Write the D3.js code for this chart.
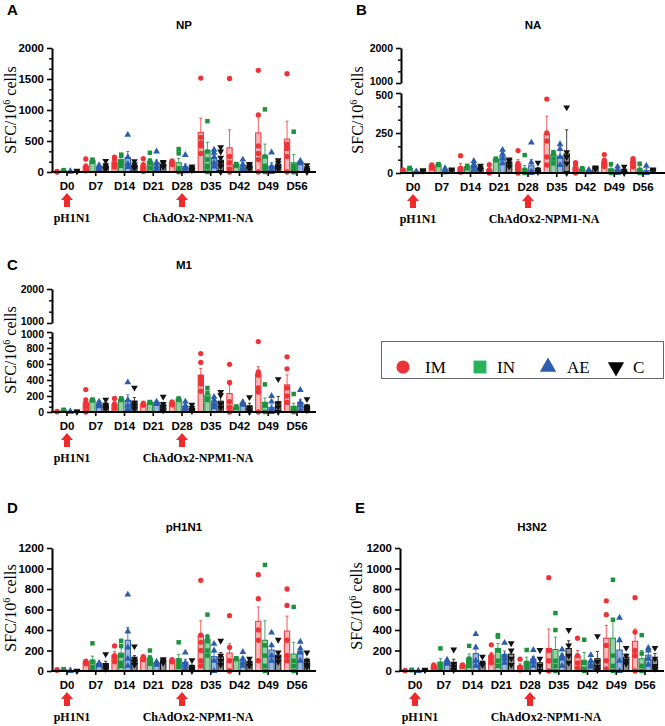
<!DOCTYPE html>
<html><head><meta charset="utf-8">
<script src="https://cdn.jsdelivr.net/npm/d3@7"></script>
<style>body{margin:0;background:#fff}svg{display:block}</style>
</head><body>
<svg id="c" width="665" height="726"></svg>
<script>
// ---------- DATA ----------
const days = ["D0","D7","D14","D21","D28","D35","D42","D49","D56"];
const groups = ["IM","IN","AE","C"];
const arrowDays = ["D0","D28"];
const treatments = ["pH1N1","ChAdOx2-NPM1-NA"];

// NP (A)  rows: IM, IN, AE, C
const npMean = [
  [5,90,160,100,155,640,390,630,530],
  [25,180,200,170,150,345,120,260,150],
  [10,70,230,145,85,230,110,95,160],
  [15,100,110,120,60,190,90,130,60]];
const npSem = [
  [5,40,40,40,15,230,290,290,290],
  [5,15,50,45,70,135,5,190,130],
  [5,20,100,50,45,40,40,55,15],
  [5,30,30,25,15,60,20,40,30]];
const npPts = [
  [[10,0,5],[210,90,50,20],[240,200,130,80],[215,120,60,10],[180,160,150,120],[1515,560,470,420,300],[1510,250,150,50,0],[1640,920,420,300,200,0],[1585,450,380,250,0]],
  [[30,20],[200,175,165],[280,260,160,100],[310,180,140,60],[370,300,60,20,0],[820,330,200,100,80,0],[130,120,100],[1010,250,100,50,0],[650,100,50,0,0]],
  [[15,5],[110,80,40],[600,240,130,80],[330,150,90,40],[275,80,40,10],[360,310,240,150,90],[200,120,60,20],[315,90,50,20,0],[180,160,140]],
  [[20,10],[180,110,60,50],[175,120,80,60],[160,140,100,80],[90,60,40,30],[400,330,230,150,90,0],[130,110,80,50],[190,150,80,50],[110,60,20,0]]];

// NA (B)
const naMean = [
  [17,45,35,20,55,245,35,70,70],
  [30,52,40,85,25,115,25,25,25],
  [8,15,45,105,45,105,15,20,15],
  [15,20,30,65,20,120,30,15,20]];
const naSem = [
  [3,5,25,12,30,110,15,20,15],
  [3,3,8,5,22,15,3,20,20],
  [3,8,15,25,40,35,5,10,15],
  [3,3,10,15,15,150,3,10,3]];
const naPts = [
  [[20,15],[50,40,30],[108,30,20,10,5],[52,20,10,0],[140,60,40,20,0],[462,250,200,100,50],[65,50,20,0],[115,80,60,40],[90,80,65,40]],
  [[32,28],[55,50],[45,40,30],[90,85,80],[112,20,5,0],[130,120,90,60],[30,25,20],[55,15,0],[58,20,0]],
  [[10,5],[30,10,5],[75,55,40,20],[145,120,90,60],[190,65,10,0],[180,150,100,50],[20,15,5],[40,20,0],[45,0,0]],
  [[17,13],[22,18],[45,30,20],[85,75,60,40],[65,20,5],[410,130,100,60,0],[35,30,25],[40,15,0],[22,18]]];

// M1 (C)
const m1Mean = [
  [5,115,95,95,110,460,230,480,340],
  [25,150,160,120,160,215,60,120,70],
  [5,100,145,120,75,130,110,60,120],
  [5,90,125,90,45,135,70,125,70]];
const m1Sem = [
  [3,50,30,5,10,85,110,85,125],
  [3,5,10,5,10,35,5,55,40],
  [2,20,70,10,20,30,15,30,40],
  [2,25,55,30,20,60,40,70,25]];
const m1Pts = [
  [[8,2],[280,150,110,60,0],[170,100,70,40],[110,95,85],[125,110,100,90],[730,620,440,400,350,260],[596,370,130,60,0],[880,500,460,300,250,0],[690,540,300,200,120]],
  [[28,22],[155,150,145],[170,160,150],[125,120,115],[170,160,150],[300,240,170,150],[70,60,50],[345,100,80,0],[225,50,20,0]],
  [[8,3],[130,100,70],[370,150,80,30],[130,115,100],[130,80,50,30],[190,150,100,60],[125,110,90],[200,130,40,0],[275,120,80,20]],
  [[7,3],[155,90,60,40],[305,120,80,40],[190,100,60,20],[90,50,20,10],[250,210,100,50],[185,60,30,0],[410,110,60,0],[160,70,40,20]]];

// pH1N1 (D)
const ph1Mean = [
  [10,90,155,130,105,350,175,485,390],
  [15,105,175,125,120,305,120,300,165],
  [3,70,300,80,85,140,110,205,190],
  [2,70,120,100,40,140,85,155,100]];
const ph1Sem = [
  [3,10,35,15,5,140,90,140,145],
  [3,40,50,25,40,50,5,190,115],
  [2,8,125,10,30,45,25,50,30],
  [1,25,30,15,20,40,20,35,25]];
const ph1Pts = [
  [[12,8],[95,85,70],[245,150,130,90],[140,130,110],[110,100,90],[885,350,280,200,100,50],[540,230,100,0,0],[940,705,400,300,100],[800,640,300,150,100]],
  [[18,12],[270,90,40,20],[295,245,150,80,50],[200,130,90,70],[280,100,60,40],[550,330,290,200,150],[125,120,115],[1035,250,150,50,0],[625,100,50,0]],
  [[5,0],[80,65,55],[745,385,230,120,50],[90,80,60],[180,80,50,20],[265,200,100,0],[185,120,80,50],[375,250,150,100],[285,220,180,100]],
  [[3,0],[165,60,40,20],[240,120,90,60],[115,100,80],[105,40,20,0],[295,150,100,60],[120,80,50],[305,180,130,90],[180,100,60,40]]];

// H3N2 (E)
const h3Mean = [
  [5,50,55,150,50,220,145,320,290],
  [10,85,125,220,90,210,105,320,120],
  [2,90,170,160,115,135,90,205,155],
  [10,80,80,165,80,220,120,135,110]];
const h3Sem = [
  [2,10,5,30,20,190,55,125,120],
  [3,35,40,50,45,120,75,190,80],
  [1,15,60,35,25,35,20,110,35],
  [3,35,15,40,40,75,70,30,60]];
const h3Pts = [
  [[7,3],[60,45,30],[60,55,45],[255,150,120,80],[115,40,30,10],[910,200,100,0],[320,150,80,30],[685,550,250,100,20],[715,380,200,150,0]],
  [[12,8],[220,70,40,20],[245,120,80,50],[350,335,200,100,50],[205,80,50,20],[565,400,100,50,0],[305,80,20,0],[890,500,150,50,0],[350,170,50,0]],
  [[3,0],[110,90,70],[360,230,100,50],[275,150,120,80],[205,120,90,50],[210,150,120,50],[155,100,60,40],[520,300,100,0],[225,200,120,60]],
  [[12,8],[210,70,40,10],[140,80,60],[270,200,120,60],[205,120,50,0],[400,250,150,80],[340,90,40,10],[225,150,100,70],[225,120,50,20]]];

// ---------- STYLE ----------
const colors = {IM:"#ee3338", IN:"#1c913f", AE:"#2b5cae", C:"#111111"};
const legendColors = {IM:"#ee3338", IN:"#27b35c", AE:"#2b5cae", C:"#000000"};
const shapes = {IM:d3.symbolCircle, IN:d3.symbolSquare, AE:d3.symbolTriangle, C:d3.symbolTriangle};
const sansB = "'Liberation Sans', Arial, sans-serif";
const serif = "'Liberation Serif', 'Times New Roman', serif";

const panels = [
  {letter:"A", title:"NP", mean:npMean, sem:npSem, pts:npPts, ax:52, g0:67, y0:172, lowTop:48, lowMax:2000, lowTicks:[0,500,1000,1500,2000], lowMinor:500/3, upper:null, ly:15, ty:29, yl:[16,110]},
  {letter:"B", title:"NA", mean:naMean, sem:naSem, pts:naPts, ax:401, g0:413, y0:173, lowTop:93, lowMax:500, lowTicks:[0,250,500], lowMinor:250/3, upper:{y0:83,y1:48,ticks:[1000,2000]}, ly:15, ty:29, yl:[363,110]},
  {letter:"C", title:"M1", mean:m1Mean, sem:m1Sem, pts:m1Pts, ax:52, g0:67, y0:412, lowTop:332, lowMax:1000, lowTicks:[0,200,400,600,800,1000], lowMinor:200/3, upper:{y0:323,y1:289,ticks:[1000,2000]}, ly:270, ty:269, yl:[16,350]},
  {letter:"D", title:"pH1N1", mean:ph1Mean, sem:ph1Sem, pts:ph1Pts, ax:52, g0:67, y0:671, lowTop:548, lowMax:1200, lowTicks:[0,200,400,600,800,1000,1200], lowMinor:null, upper:null, ly:513, ty:531, yl:[16,608]},
  {letter:"E", title:"H3N2", mean:h3Mean, sem:h3Sem, pts:h3Pts, ax:400, g0:415, y0:671, lowTop:548, lowMax:1200, lowTicks:[0,200,400,600,800,1000,1200], lowMinor:null, upper:null, ly:513, ty:531, yl:[362,606]}
];

const svg = d3.select("#c");
const step = 28.75;

function styleAxis(g, fs){
  g.select(".domain").attr("stroke","#000").attr("stroke-width",2);
  g.selectAll(".tick line").attr("stroke","#000").attr("stroke-width",1.6);
  g.selectAll(".tick text").attr("font-family",sansB).attr("font-weight","bold").attr("font-size",fs || "11.5px").attr("fill","#000");
}

panels.forEach(p => {
  const g = svg.append("g");
  const x = d3.scalePoint().domain(days).range([p.g0, p.g0 + step*(days.length-1)]);
  const xb = d3.scaleBand().domain(groups).range([-12.6, 12.6]).paddingInner(0.2);
  const y = d3.scaleLinear().domain([0, p.lowMax]).range([p.y0, p.lowTop]);
  const axisEnd = p.ax + 264;
  const fs = p.upper ? "10.5px" : "11.5px";

  // panel letter & title
  g.append("text").attr("x", p.ax - 45).attr("y", p.ly).text(p.letter)
    .attr("font-family",sansB).attr("font-weight","bold").attr("font-size","15px");
  g.append("text").attr("x", p.ax + 132).attr("y", p.ty).text(p.title).attr("text-anchor","middle")
    .attr("font-family",sansB).attr("font-weight","bold").attr("font-size","11.5px");

  // y label
  const yl = g.append("text").attr("transform",`translate(${p.yl[0]},${p.yl[1]}) rotate(-90)`)
    .attr("text-anchor","middle").attr("font-family",serif).attr("font-size","16px").attr("fill","#000");
  yl.append("tspan").text("SFC/10");
  yl.append("tspan").text("6").attr("font-size","10px").attr("dy",-6);
  yl.append("tspan").text(" cells").attr("dy",6);

  // y axes
  const ya = g.append("g").attr("transform",`translate(${p.ax},0)`)
    .call(d3.axisLeft(y).tickValues(p.lowTicks).tickSize(5).tickSizeOuter(0).tickPadding(3).tickFormat(d3.format("d")));
  styleAxis(ya, fs);
  if (p.upper) {
    // nudge the top label of the lower segment down a little so it clears the upper "1000"
    ya.selectAll(".tick text").filter(d => d === p.lowMax).attr("dy","0.55em");
  }
  if (p.lowMinor) {
    const mv = d3.range(0, p.lowMax + 1e-6, p.lowMinor).filter(v => !p.lowTicks.some(t => Math.abs(t - v) < 1e-6));
    const ym = g.append("g").attr("transform",`translate(${p.ax},0)`)
      .call(d3.axisLeft(y).tickValues(mv).tickSize(3).tickFormat(""));
    ym.select(".domain").remove();
    ym.selectAll(".tick line").attr("stroke","#000").attr("stroke-width",1.4);
  }
  if (p.upper) {
    const yu = d3.scaleLinear().domain([1000,2000]).range([p.upper.y0, p.upper.y1]);
    const ua = g.append("g").attr("transform",`translate(${p.ax},0)`)
      .call(d3.axisLeft(yu).tickValues(p.upper.ticks).tickSize(5).tickSizeOuter(0).tickPadding(3).tickFormat(d3.format("d")));
    styleAxis(ua, fs);
    ua.selectAll(".tick text").filter(d => d === 1000).attr("dy","0.1em");
    const um = g.append("g").attr("transform",`translate(${p.ax},0)`)
      .call(d3.axisLeft(yu).tickValues([1000+1000/3, 1000+2000/3]).tickSize(3).tickFormat(""));
    um.select(".domain").remove();
    um.selectAll(".tick line").attr("stroke","#000").attr("stroke-width",1.4);
  }

  // bars, error bars, points
  groups.forEach((gr, gi) => {
    const col = colors[gr];
    days.forEach((d, di) => {
      const m = p.mean[gi][di], s = p.sem[gi][di];
      const bx = x(d) + xb(gr), bw = xb.bandwidth(), cx = bx + bw/2;
      g.append("rect").attr("x", bx).attr("y", y(m)).attr("width", bw).attr("height", Math.max(0, y(0) - y(m)))
        .attr("fill", col).attr("fill-opacity", gr === "IM" ? 0.35 : 0.45).attr("stroke", col).attr("stroke-width", 1);
      const ye = y(m + s);
      g.append("line").attr("x1",cx).attr("x2",cx).attr("y1",y(m)).attr("y2",ye).attr("stroke",col).attr("stroke-width",1).attr("stroke-opacity",0.8);
      g.append("line").attr("x1",cx-1.6).attr("x2",cx+1.6).attr("y1",ye).attr("y2",ye).attr("stroke",col).attr("stroke-width",1).attr("stroke-opacity",0.8);
    });
  });
  groups.forEach((gr, gi) => {
    const col = colors[gr];
    const sym = d3.symbol().type(shapes[gr]).size(gr === "IM" ? 22 : 20);
    days.forEach((d, di) => {
      const cx = x(d) + xb(gr) + xb.bandwidth()/2;
      p.pts[gi][di].forEach(v => {
        g.append("path").attr("d", sym())
          .attr("transform", `translate(${cx},${y(v)})` + (gr === "C" ? " rotate(180)" : ""))
          .attr("fill", col);
      });
    });
  });

  // x axis
  g.append("line").attr("x1", p.ax - 1).attr("x2", axisEnd).attr("y1", p.y0).attr("y2", p.y0)
    .attr("stroke","#000").attr("stroke-width",2);
  days.forEach(d => {
    g.append("line").attr("x1", x(d)).attr("x2", x(d)).attr("y1", p.y0).attr("y2", p.y0 + 4)
      .attr("stroke","#000").attr("stroke-width",1.6);
    g.append("text").attr("x", x(d)).attr("y", p.y0 + 18).attr("text-anchor","middle").text(d)
      .attr("font-family",sansB).attr("font-weight","bold").attr("font-size","11.5px");
  });

  // arrows & treatment labels
  arrowDays.forEach((d, i) => {
    const ax = x(d), t = p.y0 + 21;
    const pts = [[ax, t],[ax+6, t+7],[ax+3, t+7],[ax+3, t+14],[ax-3, t+14],[ax-3, t+7],[ax-6, t+7]];
    g.append("path").attr("d", d3.line()(pts) + "Z").attr("fill","#ee2a2a");
    g.append("text").attr("x", ax + (i === 0 ? 5 : 16)).attr("y", p.y0 + 50).attr("text-anchor","middle")
      .text(treatments[i]).attr("font-family",serif).attr("font-weight","bold").attr("font-size","12px");
  });
});

// legend
const lg = svg.append("g");
lg.append("rect").attr("x",381.5).attr("y",341.5).attr("width",282).attr("height",37)
  .attr("fill","none").attr("stroke","#666").attr("stroke-width",1);
const legX = [[403,425],[480,497],[548,567],[616,633]];
groups.forEach((gr, i) => {
  const size = gr === "IM" ? 135 : gr === "IN" ? 165 : 115;
  lg.append("path").attr("d", d3.symbol().type(shapes[gr]).size(size)())
    .attr("transform", `translate(${legX[i][0]},367)` + (gr === "C" ? " rotate(180)" : ""))
    .attr("fill", legendColors[gr]);
  lg.append("text").attr("x", legX[i][1]).attr("y", 373).text(gr)
    .attr("font-family",serif).attr("font-size","17px").attr("fill","#000");
});
</script>
</body></html>
